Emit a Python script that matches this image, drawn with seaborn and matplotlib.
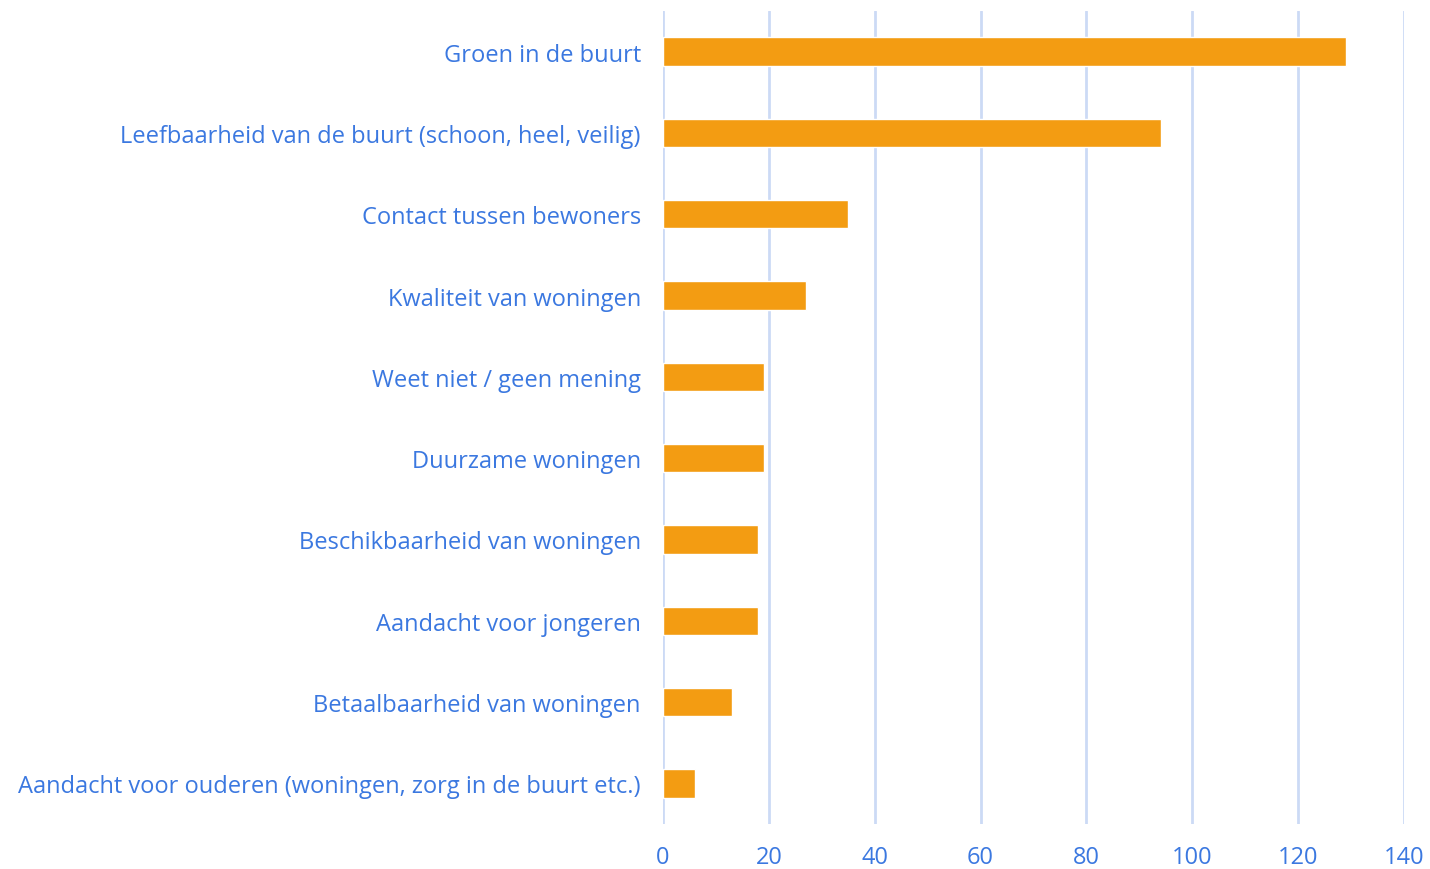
import matplotlib
matplotlib.use("Agg")
import matplotlib.pyplot as plt
import seaborn as sns
import pandas as pd

categories = [
    "Groen in de buurt",
    "Leefbaarheid van de buurt (schoon, heel, veilig)",
    "Contact tussen bewoners",
    "Kwaliteit van woningen",
    "Weet niet / geen mening",
    "Duurzame woningen",
    "Beschikbaarheid van woningen",
    "Aandacht voor jongeren",
    "Betaalbaarheid van woningen",
    "Aandacht voor ouderen (woningen, zorg in de buurt etc.)",
]
values = [129, 94, 35, 27, 19, 19, 18, 18, 13, 6]
x_ticks = [0, 20, 40, 60, 80, 100, 120, 140]

df = pd.DataFrame({"categorie": categories, "aantal": values})

sns.set_theme(style="white")
plt.rcParams['font.family'] = ['Open Sans', 'DejaVu Sans']

text_color = "#3B78E0"
grid_color = "#CCDAF5"
bar_color = "#F39C12"

fig = plt.figure(figsize=(14.3, 8.7), dpi=100)
ax = fig.add_axes([663/1430, 1 - 825/870, (1404-663)/1430, (825-12)/870])

sns.barplot(data=df, x="aantal", y="categorie", order=categories,
            color=bar_color, saturation=1, width=0.35, ax=ax, zorder=3)

ax.set_xlim(0, 140)
ax.set_ylim(9.5, -0.5)
ax.set_xticks(x_ticks)
ax.set_xticklabels([str(t) for t in x_ticks])
ax.xaxis.grid(True, color=grid_color, linewidth=2, zorder=0)
ax.yaxis.grid(False)
for s in ax.spines.values():
    s.set_visible(False)
ax.set_xlabel("")
ax.set_ylabel("")
ax.tick_params(axis="x", length=0, pad=15, labelsize=17, labelcolor=text_color)
ax.tick_params(axis="y", length=0, pad=16, labelsize=17, labelcolor=text_color)

fig.savefig("out.png", dpi=100)
